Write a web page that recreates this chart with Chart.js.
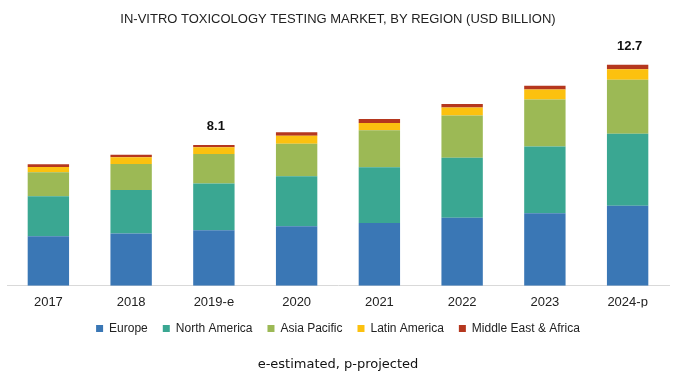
<!DOCTYPE html>
<html>
<head>
<meta charset="utf-8">
<script src="https://cdn.jsdelivr.net/npm/chart.js@4"></script>
<style>
  html, body { margin: 0; padding: 0; background: #fff; }
  #wrap { width: 680px; height: 376px; position: relative; }
</style>
</head>
<body>
<div id="wrap"><canvas id="chart"></canvas></div>
<script>
// --- Data (USD billion) ---
const years = ['2017', '2018', '2019-e', '2020', '2021', '2022', '2023', '2024-p'];
const europe       = [2.85, 3.01, 3.20, 3.43, 3.61, 3.92, 4.18, 4.61];
const northAmerica = [2.31, 2.51, 2.69, 2.88, 3.22, 3.45, 3.84, 4.14];
const asiaPacific  = [1.37, 1.49, 1.70, 1.87, 2.12, 2.43, 2.70, 3.11];
const latinAmerica = [0.31, 0.39, 0.39, 0.46, 0.42, 0.46, 0.58, 0.60];
const mea          = [0.16, 0.15, 0.13, 0.20, 0.23, 0.21, 0.21, 0.27];
const totalLabels  = ['', '', '8.1', '', '', '', '', '12.7'];

const FONT = "'Liberation Sans', Arial, sans-serif";

// --- Total labels above selected bars ---
const totalsPlugin = {
    id: 'totals',
    afterDatasetsDraw(chart) {
        const { ctx, scales: { x, y } } = chart;
        ctx.save();
        ctx.font = 'bold 13px ' + FONT;
        ctx.fillStyle = '#111';
        ctx.textAlign = 'center';
        ctx.textBaseline = 'middle';
        totalLabels.forEach((lbl, i) => {
            if (!lbl) return;
            let sum = 0;
            chart.data.datasets.forEach(ds => { sum += ds.data[i]; });
            ctx.fillText(lbl, x.getPixelForValue(i) + 2, y.getPixelForValue(sum) - 18);
        });
        ctx.restore();
    }
};

new Chart(document.getElementById('chart'), {
    type: 'bar',
    data: {
        labels: years,
        datasets: [
            { label: 'Europe', data: europe, backgroundColor: '#3a77b5' },
            { label: 'North America', data: northAmerica, backgroundColor: '#3aa792' },
            { label: 'Asia Pacific', data: asiaPacific, backgroundColor: '#9cb955' },
            { label: 'Latin America', data: latinAmerica, backgroundColor: '#fcc10f' },
            { label: 'Middle East & Africa', data: mea, backgroundColor: '#b5371e' },
        ]
    },
    options: {
        responsive: true,
        maintainAspectRatio: false,
        animation: false,
        layout: { padding: { left: 7, right: 11, top: 0, bottom: 0 } },
        datasets: { bar: { categoryPercentage: 1, barPercentage: 0.5, borderWidth: 0 } },
        plugins: {
            title: {
                display: true,
                text: 'IN-VITRO TOXICOLOGY TESTING MARKET, BY REGION (USD BILLION)',
                color: '#222',
                font: { family: FONT, size: 13, weight: 'normal' },
                padding: { top: 12, bottom: 15 }
            },
            subtitle: {
                display: true,
                position: 'bottom',
                text: 'e-estimated, p-projected',
                color: '#111',
                font: { family: "'DejaVu Sans', Verdana, sans-serif", size: 13 },
                padding: { top: 12, bottom: 4 }
            },
            legend: {
                position: 'bottom',
                labels: {
                    boxWidth: 7,
                    boxHeight: 7,
                    padding: 15,
                    color: '#222',
                    font: { family: FONT, size: 12 }
                }
            },
            tooltip: { enabled: false }
        },
        scales: {
            x: {
                stacked: true,
                grid: { display: false, tickLength: 0 },
                border: { color: '#d9d9d9' },
                ticks: { color: '#222', font: { family: FONT, size: 13 }, padding: 9 },
                afterFit(scale) { scale.height -= 12; }
            },
            y: {
                stacked: true,
                display: false,
                min: 0,
                max: 14
            }
        }
    },
    plugins: [totalsPlugin]
});
</script>
</body>
</html>
